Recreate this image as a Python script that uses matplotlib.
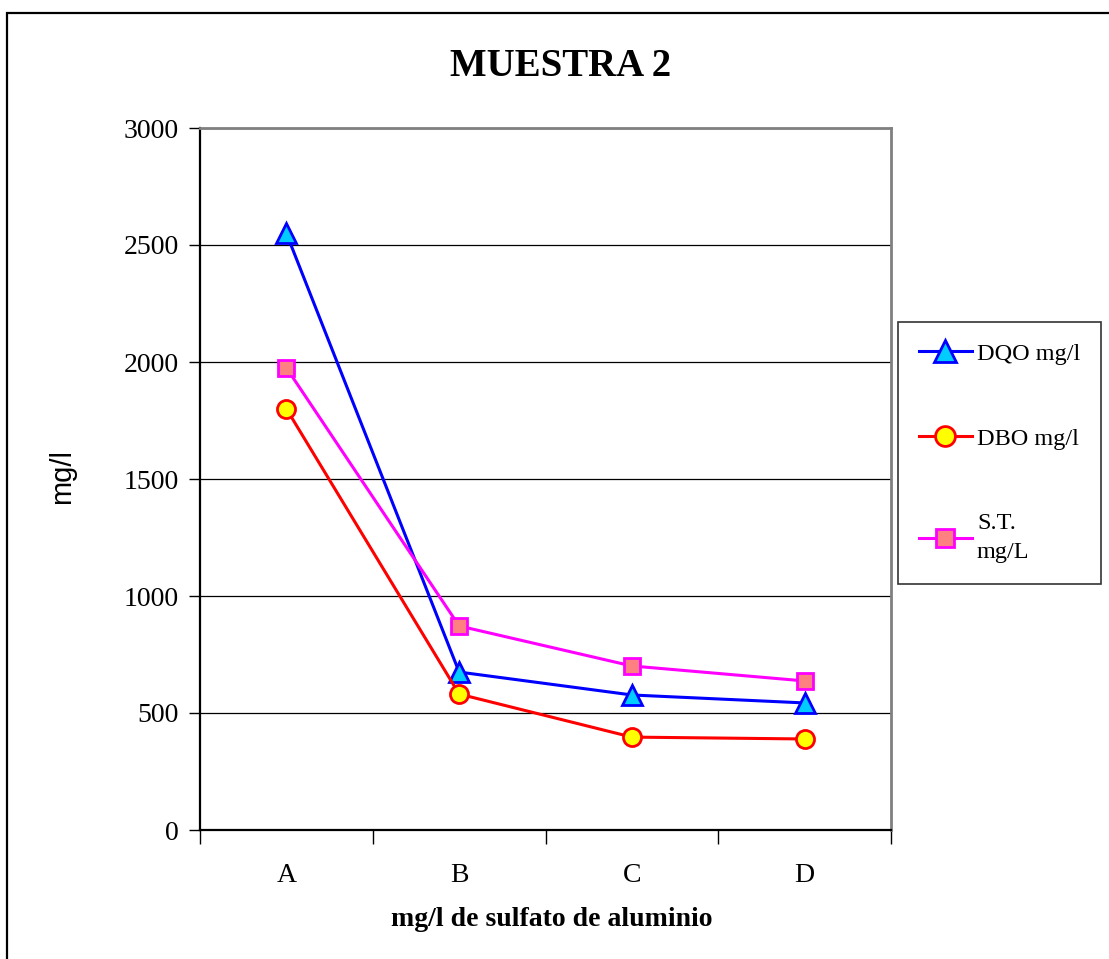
import numpy as np
import matplotlib.pyplot as plt
from matplotlib.patches import Rectangle

# dosis de sulfato de aluminio
categorias = ['A', 'B', 'C', 'D']
dqo = [2550, 675, 577, 543]
dbo = [1800, 581, 397, 389]
st = [1975, 872, 701, 637]

serif = 'Liberation Serif'
sans = 'Liberation Sans'

fig = plt.figure(figsize=(11.09, 9.59), dpi=100)
fig.patch.set_facecolor('white')

# marco exterior del grafico
fig.patches.append(Rectangle((7 / 1109, -0.05), 1.2, 1 - 13 / 959 + 0.05,
                             transform=fig.transFigure, fill=False,
                             edgecolor='black', linewidth=1.6))

ax = fig.add_axes([200 / 1109, 1 - 830 / 959, 691 / 1109, 702 / 959])
x = np.arange(len(categorias))

ax.plot(x, dqo, color='#0000ff', lw=2.2, marker='^', ms=14,
        mfc='#00ccff', mec='#0000ff', mew=2, label='DQO mg/l', zorder=3)
ax.plot(x, dbo, color='#ff0000', lw=2.2, marker='o', ms=13,
        mfc='#ffff00', mec='#ff0000', mew=2, label='DBO mg/l', zorder=3)
ax.plot(x, st, color='#ff00ff', lw=2.2, marker='s', ms=12,
        mfc='#ff8080', mec='#ff00ff', mew=2, label='S.T.\nmg/L', zorder=3)

ax.set_xlim(-0.5, 3.5)
ax.set_ylim(0, 3000)
ax.set_yticks(np.arange(0, 3001, 500))
ax.yaxis.grid(True, color='black', lw=0.9)
ax.set_axisbelow(True)

# ticks en los limites de cada categoria, etiquetas centradas
ax.set_xticks(np.arange(-0.5, 3.6, 1))
ax.set_xticklabels([])
ax.set_xticks(x, minor=True)
ax.set_xticklabels(categorias, minor=True, fontfamily=serif, fontsize=20)
ax.tick_params(axis='x', which='major', length=10, width=1, direction='out')
ax.tick_params(axis='x', which='minor', length=0, pad=24)
ax.tick_params(axis='y', length=8, width=1, direction='out', pad=7)
for lab in ax.get_yticklabels():
    lab.set_fontfamily(serif)
    lab.set_fontsize(20)

for s in ['top', 'right']:
    ax.spines[s].set_color('#808080')
    ax.spines[s].set_linewidth(2)
for s in ['left', 'bottom']:
    ax.spines[s].set_color('black')
    ax.spines[s].set_linewidth(1.6)

fig.text(561 / 1109, 1 - 67 / 959, 'MUESTRA 2', ha='center', va='center',
         fontfamily=serif, fontweight='bold', fontsize=28)
fig.text(552 / 1109, 1 - 920 / 959, 'mg/l de sulfato de aluminio',
         ha='center', va='center', fontfamily=serif, fontweight='bold',
         fontsize=20)
fig.text(62 / 1109, 1 - 477 / 959, 'mg/l', ha='center', va='center',
         rotation=90, fontfamily=sans, fontsize=21)

leg = fig.legend(loc='upper left', bbox_to_anchor=(898 / 1109, 1 - 322 / 959),
                 prop={'family': serif, 'size': 17.5}, frameon=True,
                 fancybox=False, edgecolor='black', labelspacing=2.6,
                 handlelength=2.2, handletextpad=0.2, borderpad=0.85,
                 borderaxespad=0, markerscale=1.1)
leg.get_frame().set_linewidth(1.2)
for t in leg.get_texts():
    t.set_linespacing(1.5)

fig.savefig('out.png', dpi=100)
